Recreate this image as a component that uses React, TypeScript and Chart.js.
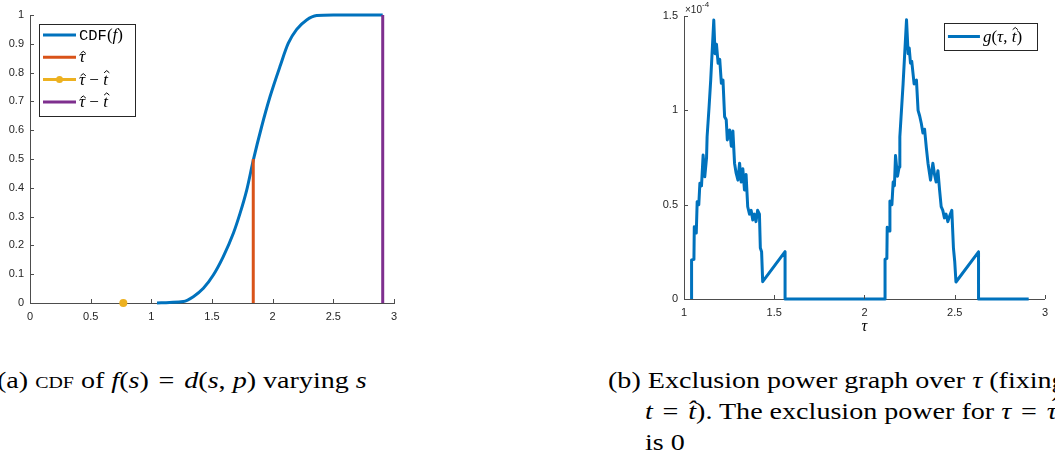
import React, { useEffect, useRef } from "react";
import { Chart, registerables } from "chart.js";

Chart.register(...registerables);

// ---------- Data: (a) CDF of f(s) ----------
const cdfS = [1.047, 1.15, 1.264, 1.346, 1.429, 1.511, 1.593, 1.676, 1.731, 1.786, 1.841, 1.909, 1.978, 2.06, 2.129, 2.198, 2.28, 2.363, 2.5, 2.907];
const cdfValue = [0, 0.002, 0.005, 0.022, 0.051, 0.097, 0.161, 0.242, 0.311, 0.392, 0.497, 0.612, 0.716, 0.821, 0.902, 0.95, 0.983, 0.998, 1.0, 1.0];
const tauHatS = [1.84, 1.84];
const tauHatCdf = [0, 0.5];
const tauMinusTS = [0.769];
const tauMinusTCdf = [0];
const tauMinusT2S = [2.907, 2.907];
const tauMinusT2Cdf = [0, 1];
const cdfXTicks = [0, 0.5, 1, 1.5, 2, 2.5, 3];
const cdfYTicks = [0, 0.1, 0.2, 0.3, 0.4, 0.5, 0.6, 0.7, 0.8, 0.9, 1];

// ---------- Data: (b) exclusion power g(tau, t^) in units of 1e-4 ----------
const gTau = [
  1.042, 1.042, 1.055, 1.057, 1.068, 1.073, 1.082, 1.088, 1.097, 1.106, 1.115, 1.125, 1.128, 1.139, 1.148, 1.165,
  1.172, 1.18, 1.189, 1.198, 1.207, 1.216, 1.225, 1.234, 1.24, 1.253, 1.262, 1.271, 1.28, 1.289, 1.299, 1.308,
  1.317, 1.326, 1.335, 1.344, 1.353, 1.363, 1.372, 1.381, 1.39, 1.399, 1.408, 1.418, 1.423, 1.43, 1.436, 1.56, 1.56,
  2.114, 2.114, 2.124, 2.126, 2.136, 2.141, 2.152, 2.159, 2.166, 2.172, 2.183, 2.192, 2.196, 2.214, 2.233,
  2.242, 2.248, 2.255, 2.262, 2.275, 2.288, 2.297, 2.306, 2.315, 2.324, 2.333, 2.343, 2.352, 2.366, 2.379,
  2.388, 2.397, 2.407, 2.416, 2.425, 2.434, 2.443, 2.452, 2.462, 2.472, 2.484, 2.493, 2.5, 2.507, 2.632, 2.632, 2.91
];
const gValue = [
  0, 0.207, 0.21, 0.383, 0.35, 0.516, 0.5, 0.613, 0.6, 0.763, 0.648, 0.75, 0.86, 1.019, 1.16, 1.479,
  1.3, 1.35, 1.249, 1.27, 1.143, 1.16, 0.966, 0.95, 0.843, 0.896, 0.81, 0.89, 0.72, 0.667, 0.63, 0.72,
  0.62, 0.69, 0.578, 0.66, 0.489, 0.45, 0.47, 0.419, 0.45, 0.41, 0.47, 0.45, 0.27, 0.25, 0.092, 0.251, 0,
  0, 0.21, 0.215, 0.38, 0.36, 0.52, 0.5, 0.62, 0.6, 0.76, 0.65, 0.7, 0.86, 1.14, 1.48,
  1.3, 1.33, 1.25, 1.26, 1.14, 1.16, 1.0, 0.97, 0.93, 0.88, 0.9, 0.8, 0.72, 0.63, 0.72,
  0.66, 0.62, 0.68, 0.58, 0.49, 0.47, 0.43, 0.45, 0.41, 0.44, 0.47, 0.27, 0.2, 0.09, 0.25, 0, 0
];
const gXTicks = [1, 1.5, 2, 2.5, 3];
const gYTicks = [0, 0.5, 1, 1.5];

const BLUE = "#0072BD";
const ORANGE = "#D95319";
const YELLOW = "#EDB120";
const PURPLE = "#7E2F8E";
const AXIS = "#4d4d4d";
const TICKTXT = "#262626";
const TICK_FONT = { family: "'Liberation Sans', Arial, sans-serif", size: 11 };

const SERIF = "'Liberation Serif', 'DejaVu Serif', serif";
const MONO = "'Liberation Mono', 'DejaVu Sans Mono', monospace";

type Piece = { t: string; f: string; hat?: number };

function drawPieces(ctx: CanvasRenderingContext2D, pieces: Piece[], x: number, baseline: number) {
  let cx = x;
  ctx.fillStyle = "#000";
  ctx.textBaseline = "alphabetic";
  ctx.textAlign = "left";
  for (const p of pieces) {
    ctx.font = p.f;
    ctx.fillText(p.t, cx, baseline);
    const w = ctx.measureText(p.t).width;
    if (p.hat !== undefined) {
      const mx = cx + w / 2 + 1.2;
      const top = baseline - p.hat;
      ctx.save();
      ctx.strokeStyle = "#000";
      ctx.lineWidth = 1;
      ctx.beginPath();
      ctx.moveTo(mx - 2.6, top + 2.2);
      ctx.lineTo(mx, top);
      ctx.lineTo(mx + 2.6, top + 2.2);
      ctx.stroke();
      ctx.restore();
    }
    cx += w;
  }
}

const mlabPlugin = {
  id: "mlab",
  afterDraw(chart: any, _args: any, opts: any) {
    const ctx: CanvasRenderingContext2D = chart.ctx;
    const area = chart.chartArea;
    ctx.save();
    // inward ticks
    ctx.strokeStyle = AXIS;
    ctx.lineWidth = 1;
    const xs = chart.scales.x;
    const ys = chart.scales.y;
    ctx.beginPath();
    for (const t of xs.ticks) {
      const px = Math.round(xs.getPixelForValue(t.value)) + 0.5;
      ctx.moveTo(px, area.bottom);
      ctx.lineTo(px, area.bottom - 4);
    }
    for (const t of ys.ticks) {
      const py = Math.round(ys.getPixelForValue(t.value)) + 0.5;
      ctx.moveTo(area.left, py);
      ctx.lineTo(area.left + 4, py);
    }
    ctx.stroke();

    // exponent label
    if (opts.exponent) {
      ctx.fillStyle = TICKTXT;
      ctx.font = "10px 'Liberation Sans', Arial, sans-serif";
      ctx.textBaseline = "alphabetic";
      ctx.textAlign = "left";
      const base = "\u00d710";
      ctx.fillText(base, area.left + 1, area.top - 3);
      const w = ctx.measureText(base).width;
      ctx.font = "8px 'Liberation Sans', Arial, sans-serif";
      ctx.fillText(opts.exponent, area.left + 1 + w, area.top - 9);
    }

    // x axis label
    if (opts.xLabel) {
      ctx.fillStyle = "#000";
      ctx.font = `italic 16px ${SERIF}`;
      ctx.textAlign = "center";
      ctx.textBaseline = "alphabetic";
      ctx.fillText(opts.xLabel, (area.left + area.right) / 2, area.bottom + 32);
    }

    // legend
    const lg = opts.legend;
    if (lg) {
      const bx = lg.anchor === "right" ? area.right - lg.dx - lg.w : area.left + lg.dx;
      const by = area.top + lg.dy;
      ctx.fillStyle = "#fff";
      ctx.fillRect(bx, by, lg.w, lg.h);
      ctx.strokeStyle = "#262626";
      ctx.lineWidth = 1;
      ctx.strokeRect(Math.round(bx) + 0.5, Math.round(by) + 0.5, lg.w, lg.h);
      lg.items.forEach((it: any, i: number) => {
        const ry = by + lg.firstRow + i * lg.rowGap;
        ctx.strokeStyle = it.color;
        ctx.lineWidth = 3;
        ctx.beginPath();
        ctx.moveTo(bx + 4, ry);
        ctx.lineTo(bx + 4 + lg.lineLen, ry);
        ctx.stroke();
        if (it.marker) {
          ctx.fillStyle = it.color;
          ctx.beginPath();
          ctx.arc(bx + 4 + lg.lineLen / 2, ry, 3.5, 0, Math.PI * 2);
          ctx.fill();
        }
        drawPieces(ctx, it.pieces, bx + 4 + lg.lineLen + 3, ry + 5);
      });
    }
    ctx.restore();
  },
};

const IT = `italic 17px ${SERIF}`;
const UP = `17px ${SERIF}`;

const leftLegendItems = [
  { color: BLUE, pieces: [{ t: "CDF", f: `15.5px ${MONO}` }, { t: "(", f: UP }, { t: "f", f: IT }, { t: ")", f: UP }] },
  { color: ORANGE, pieces: [{ t: "\u03c4", f: IT, hat: 11 }] },
  { color: YELLOW, marker: true, pieces: [{ t: "\u03c4", f: IT, hat: 11 }, { t: " \u2212 ", f: UP }, { t: "t", f: IT, hat: 14 }] },
  { color: PURPLE, pieces: [{ t: "\u03c4", f: IT, hat: 11 }, { t: " \u2212 ", f: UP }, { t: "t", f: IT, hat: 14 }] },
];

const rightLegendItems = [
  { color: BLUE, pieces: [{ t: "g", f: IT }, { t: "(", f: UP }, { t: "\u03c4", f: IT }, { t: ", ", f: UP }, { t: "t", f: IT, hat: 14 }, { t: ")", f: UP }] },
];

function axisCommon(ticksArr: number[], min: number, max: number, isX: boolean, fitSize: number, pad: number) {
  return {
    type: "linear" as const,
    min,
    max,
    afterBuildTicks: (scale: any) => {
      scale.ticks = ticksArr.map((v) => ({ value: v }));
    },
    afterFit: (scale: any) => {
      if (isX) scale.height = fitSize;
      else scale.width = fitSize;
    },
    grid: { display: false, drawTicks: false },
    border: { display: true, color: AXIS, width: 1 },
    ticks: {
      color: TICKTXT,
      font: TICK_FONT,
      padding: pad,
      autoSkip: false,
      maxRotation: 0,
      minRotation: 0,
      callback: (v: any) => String(Math.round(Number(v) * 100) / 100),
    },
  };
}

function pts(xs: number[], ys: number[]) {
  return xs.map((x, i) => ({ x, y: ys[i] }));
}

function Hat({ children }: { children: React.ReactNode }) {
  return (
    <span style={{ position: "relative", display: "inline-block", fontStyle: "italic" }}>
      {children}
      <span style={{ position: "absolute", left: "0.18em", top: "-0.22em", fontStyle: "normal" }}>ˆ</span>
    </span>
  );
}

function Eq() {
  return <span style={{ margin: "0 0.1em" }}>=</span>;
}

export default function App() {
  const leftRef = useRef<HTMLCanvasElement>(null);
  const rightRef = useRef<HTMLCanvasElement>(null);

  useEffect(() => {
    const c1 = new Chart(leftRef.current!, {
      type: "line",
      data: {
        datasets: [
          { label: "CDF(f)", data: pts(cdfS, cdfValue), borderColor: BLUE, borderWidth: 3, pointRadius: 0, cubicInterpolationMode: "monotone", order: 4, clip: false } as any,
          { label: "tau hat", data: pts(tauHatS, tauHatCdf), borderColor: ORANGE, borderWidth: 3, pointRadius: 0, order: 3, clip: false } as any,
          { label: "tau hat - t hat", data: pts(tauMinusTS, tauMinusTCdf), borderColor: YELLOW, backgroundColor: YELLOW, pointRadius: 4, pointBorderWidth: 0, order: 2, clip: false } as any,
          { label: "tau hat - t hat (2)", data: pts(tauMinusT2S, tauMinusT2Cdf), borderColor: PURPLE, borderWidth: 3, pointRadius: 0, order: 1, clip: false } as any,
        ],
      },
      options: {
        responsive: false,
        animation: false,
        events: [],
        layout: { padding: { left: 0, right: 26, top: 15, bottom: 17 } },
        plugins: {
          legend: { display: false },
          tooltip: { enabled: false },
          mlab: {
            legend: { anchor: "left", dx: 9, dy: 9, w: 96, h: 92, firstRow: 11, rowGap: 22.3, lineLen: 33, items: leftLegendItems },
          },
        } as any,
        scales: {
          x: axisCommon(cdfXTicks, 0, 3, true, 20, 7),
          y: axisCommon(cdfYTicks, 0, 1, false, 30, 6),
        } as any,
      },
      plugins: [mlabPlugin],
    });

    const c2 = new Chart(rightRef.current!, {
      type: "line",
      data: {
        datasets: [
          { label: "g(tau, t hat)", data: pts(gTau, gValue), borderColor: BLUE, borderWidth: 3, pointRadius: 0, borderJoinStyle: "round", clip: false } as any,
        ],
      },
      options: {
        responsive: false,
        animation: false,
        events: [],
        layout: { padding: { left: 34, right: 7, top: 16, bottom: 21 } },
        plugins: {
          legend: { display: false },
          tooltip: { enabled: false },
          mlab: {
            exponent: "-4",
            xLabel: "\u03c4",
            legend: { anchor: "right", dx: 8, dy: 7, w: 93, h: 27, firstRow: 13.5, rowGap: 0, lineLen: 32, items: rightLegendItems },
          },
        } as any,
        scales: {
          x: axisCommon(gXTicks, 1, 3, true, 20, 7),
          y: axisCommon(gYTicks, 0, 1.5, false, 30, 6),
        } as any,
      },
      plugins: [mlabPlugin],
    });

    return () => {
      c1.destroy();
      c2.destroy();
    };
  }, []);

  const cap: React.CSSProperties = {
    position: "absolute",
    fontFamily: SERIF,
    fontSize: 24,
    lineHeight: "31px",
    whiteSpace: "nowrap",
    color: "#000",
    transform: "scaleX(1.17)",
    transformOrigin: "0 0",
  };
  const i: React.CSSProperties = { fontStyle: "italic" };

  return (
    <div style={{ position: "absolute", left: 0, top: 0, width: 1055, height: 459, overflow: "hidden", background: "#fff" }}>
      <canvas ref={leftRef} width={420} height={340} style={{ position: "absolute", left: 0, top: 0, width: 420, height: 340 }} />
      <canvas ref={rightRef} width={435} height={340} style={{ position: "absolute", left: 620, top: 0, width: 435, height: 340 }} />
      <div style={{ ...cap, left: -3, top: 365 }}>
        (a) <span style={{ fontVariant: "small-caps" }}>cdf</span> of <span style={i}>f</span>(<span style={i}>s</span>) <Eq /> <span style={i}>d</span>(<span style={i}>s</span>, <span style={i}>p</span>) varying <span style={i}>s</span>
      </div>
      <div style={{ ...cap, left: 608, top: 365 }}>
        <div>(b) Exclusion power graph over <span style={i}>τ</span> (fixing</div>
        <div style={{ marginLeft: 31.6 }}>
          <span style={i}>t</span> <Eq /> <span style={i}>t̂</span>). The exclusion power for <span style={i}>τ</span> <Eq /> <Hat>τ</Hat>
        </div>
        <div style={{ marginLeft: 31.6 }}>is 0</div>
      </div>
    </div>
  );
}
